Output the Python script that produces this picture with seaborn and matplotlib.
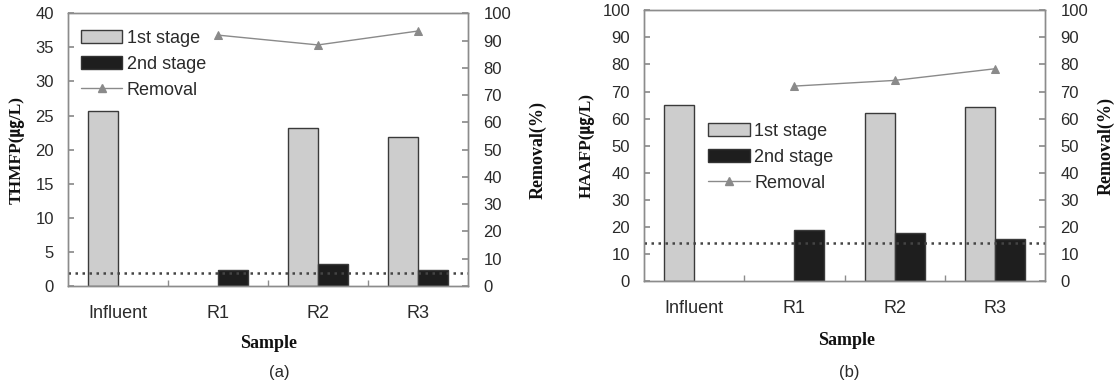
import numpy as np
import pandas as pd
import matplotlib
matplotlib.use("Agg")
import matplotlib.pyplot as plt
import seaborn as sns
from matplotlib.patches import Patch
from matplotlib.lines import Line2D
from matplotlib.ticker import FixedLocator, MultipleLocator

# ---------------- data ----------------
samples = ["Influent", "R1", "R2", "R3"]
stages = ["1st stage", "2nd stage"]

# (a) THMFP
thm_1st_samples = ["Influent", "R2", "R3"]
thm_1st = [25.7, 23.2, 21.9]
thm_2nd_samples = ["R1", "R2", "R3"]
thm_2nd = [2.4, 3.3, 2.3]
thm_removal_samples = ["R1", "R2", "R3"]
thm_removal = [92.0, 88.4, 93.5]
thm_limit = 1.9

# (b) HAAFP
haa_1st_samples = ["Influent", "R2", "R3"]
haa_1st = [65.2, 62.0, 64.4]
haa_2nd_samples = ["R1", "R2", "R3"]
haa_2nd = [18.7, 17.8, 15.4]
haa_removal_samples = ["R1", "R2", "R3"]
haa_removal = [72.0, 74.1, 78.4]
haa_limit = 14.2

# ---------------- style ----------------
sns.set_theme(style="white")
plt.rcParams["font.family"] = ["Liberation Sans", "DejaVu Sans"]

C1 = "#cdcdcd"
C2 = "#1e1e1e"
CL = "#8a8a8a"
SP = "#8c8c8c"
TXT = "#2a2a2a"

fig = plt.figure(figsize=(11.17, 3.89), dpi=100)
W, H = 1117, 389


def ax_rect(l, r, t, b):
    return [l / W, 1 - b / H, (r - l) / W, (b - t) / H]


def make_panel(rect, s1, v1, s2, v2, rs, rv, limit, ymax, ystep, ylabel,
               ylab_x, rlab_x, samp_xy, leg_xy):
    ax = fig.add_axes(rect)
    df = pd.DataFrame({
        "Sample": list(s1) + list(s2),
        "Stage": [stages[0]] * len(s1) + [stages[1]] * len(s2),
        "Value": list(v1) + list(v2),
    })
    sns.barplot(data=df, x="Sample", y="Value", hue="Stage", order=samples,
                hue_order=stages, palette={stages[0]: C1, stages[1]: C2},
                width=0.6, edgecolor="#3a3a3a", linewidth=1.0,
                saturation=1, ax=ax, errorbar=None)
    if ax.get_legend() is not None:
        ax.get_legend().remove()
    ax.axhline(limit, color="#444444", ls=(0, (1, 1.8)), lw=1.8, zorder=5)
    ax.set_ylim(0, ymax)
    ax.set_xlim(-0.5, 3.5)
    ax.yaxis.set_major_locator(MultipleLocator(ystep))

    ax2 = ax.twinx()
    sns.pointplot(x=rs, y=rv, order=samples, ax=ax2, color=CL,
                  markers="^", linestyles="-", errorbar=None,
                  markersize=6, linewidth=1.0)
    ax2.set_ylim(0, 100)
    ax2.yaxis.set_major_locator(MultipleLocator(10))
    ax.set_xlim(-0.5, 3.5)

    for a in (ax, ax2):
        for sp in a.spines.values():
            sp.set_color(SP)
            sp.set_linewidth(1.0)
            sp.set_visible(True)
    ax.tick_params(axis="y", which="major", direction="in", length=4,
                   color=SP, pad=10, labelsize=12, labelcolor=TXT, left=True)
    ax2.tick_params(axis="y", which="major", direction="in", length=4,
                    color=SP, pad=11, labelsize=12, labelcolor=TXT, right=True)
    ax.xaxis.set_minor_locator(FixedLocator([0.5, 1.5, 2.5]))
    ax.tick_params(axis="x", which="major", length=0, pad=14,
                   labelsize=13, labelcolor=TXT)
    ax.tick_params(axis="x", which="minor", direction="in", length=4,
                   color=SP, bottom=True)

    ax.set_ylabel(ylabel, family=["Liberation Serif", "Noto Sans CJK KR"],
                  fontweight="bold", fontsize=12.5, color="#111111")
    ax.yaxis.set_label_coords(ylab_x, 0.5)
    ax2.set_ylabel("Removal(%)", family=["Liberation Serif"],
                   fontweight="bold", fontsize=13, color="#111111")
    ax2.yaxis.set_label_coords(rlab_x, 0.5)
    ax.set_xlabel("Sample", family=["Liberation Serif"], fontweight="bold",
                  fontsize=13, color="#111111")
    ax.xaxis.set_label_coords(*samp_xy)
    ax2.set_xlabel("")

    handles = [
        Patch(facecolor=C1, edgecolor="#3a3a3a", linewidth=1.0),
        Patch(facecolor=C2, edgecolor="#333333", linewidth=1.0),
        Line2D([], [], color=CL, marker="^", markersize=6, lw=1.0),
    ]
    labels = ["1st stage", "2nd stage", "Removal"]
    leg = ax2.legend(handles, labels, loc="upper left", bbox_to_anchor=leg_xy,
                     frameon=False, fontsize=13, handlelength=2.3,
                     handleheight=0.75, handletextpad=0.25, labelspacing=0.5,
                     borderpad=0, borderaxespad=0)
    for t in leg.get_texts():
        t.set_color(TXT)
    return ax, ax2


make_panel(ax_rect(68, 468, 13.3, 286), thm_1st_samples, thm_1st,
           thm_2nd_samples, thm_2nd, thm_removal_samples, thm_removal,
           thm_limit, 40, 5, "THMFP(㎍/L)", -0.1075, 1.1525, (0.5025, -0.18),
           (0.032, 0.94))
make_panel(ax_rect(644, 1045, 10.3, 281), haa_1st_samples, haa_1st,
           haa_2nd_samples, haa_2nd, haa_removal_samples, haa_removal,
           haa_limit, 100, 10, "HAAFP(㎍/L)", -0.122, 1.13, (0.505, -0.188),
           (0.16, 0.585))

fig.text(279 / W, 1 - 372 / H, "(a)", ha="center", va="center",
         fontsize=12, color=TXT)
fig.text(849 / W, 1 - 372 / H, "(b)", ha="center", va="center",
         fontsize=12, color=TXT)

fig.savefig("out.png", dpi=100)
